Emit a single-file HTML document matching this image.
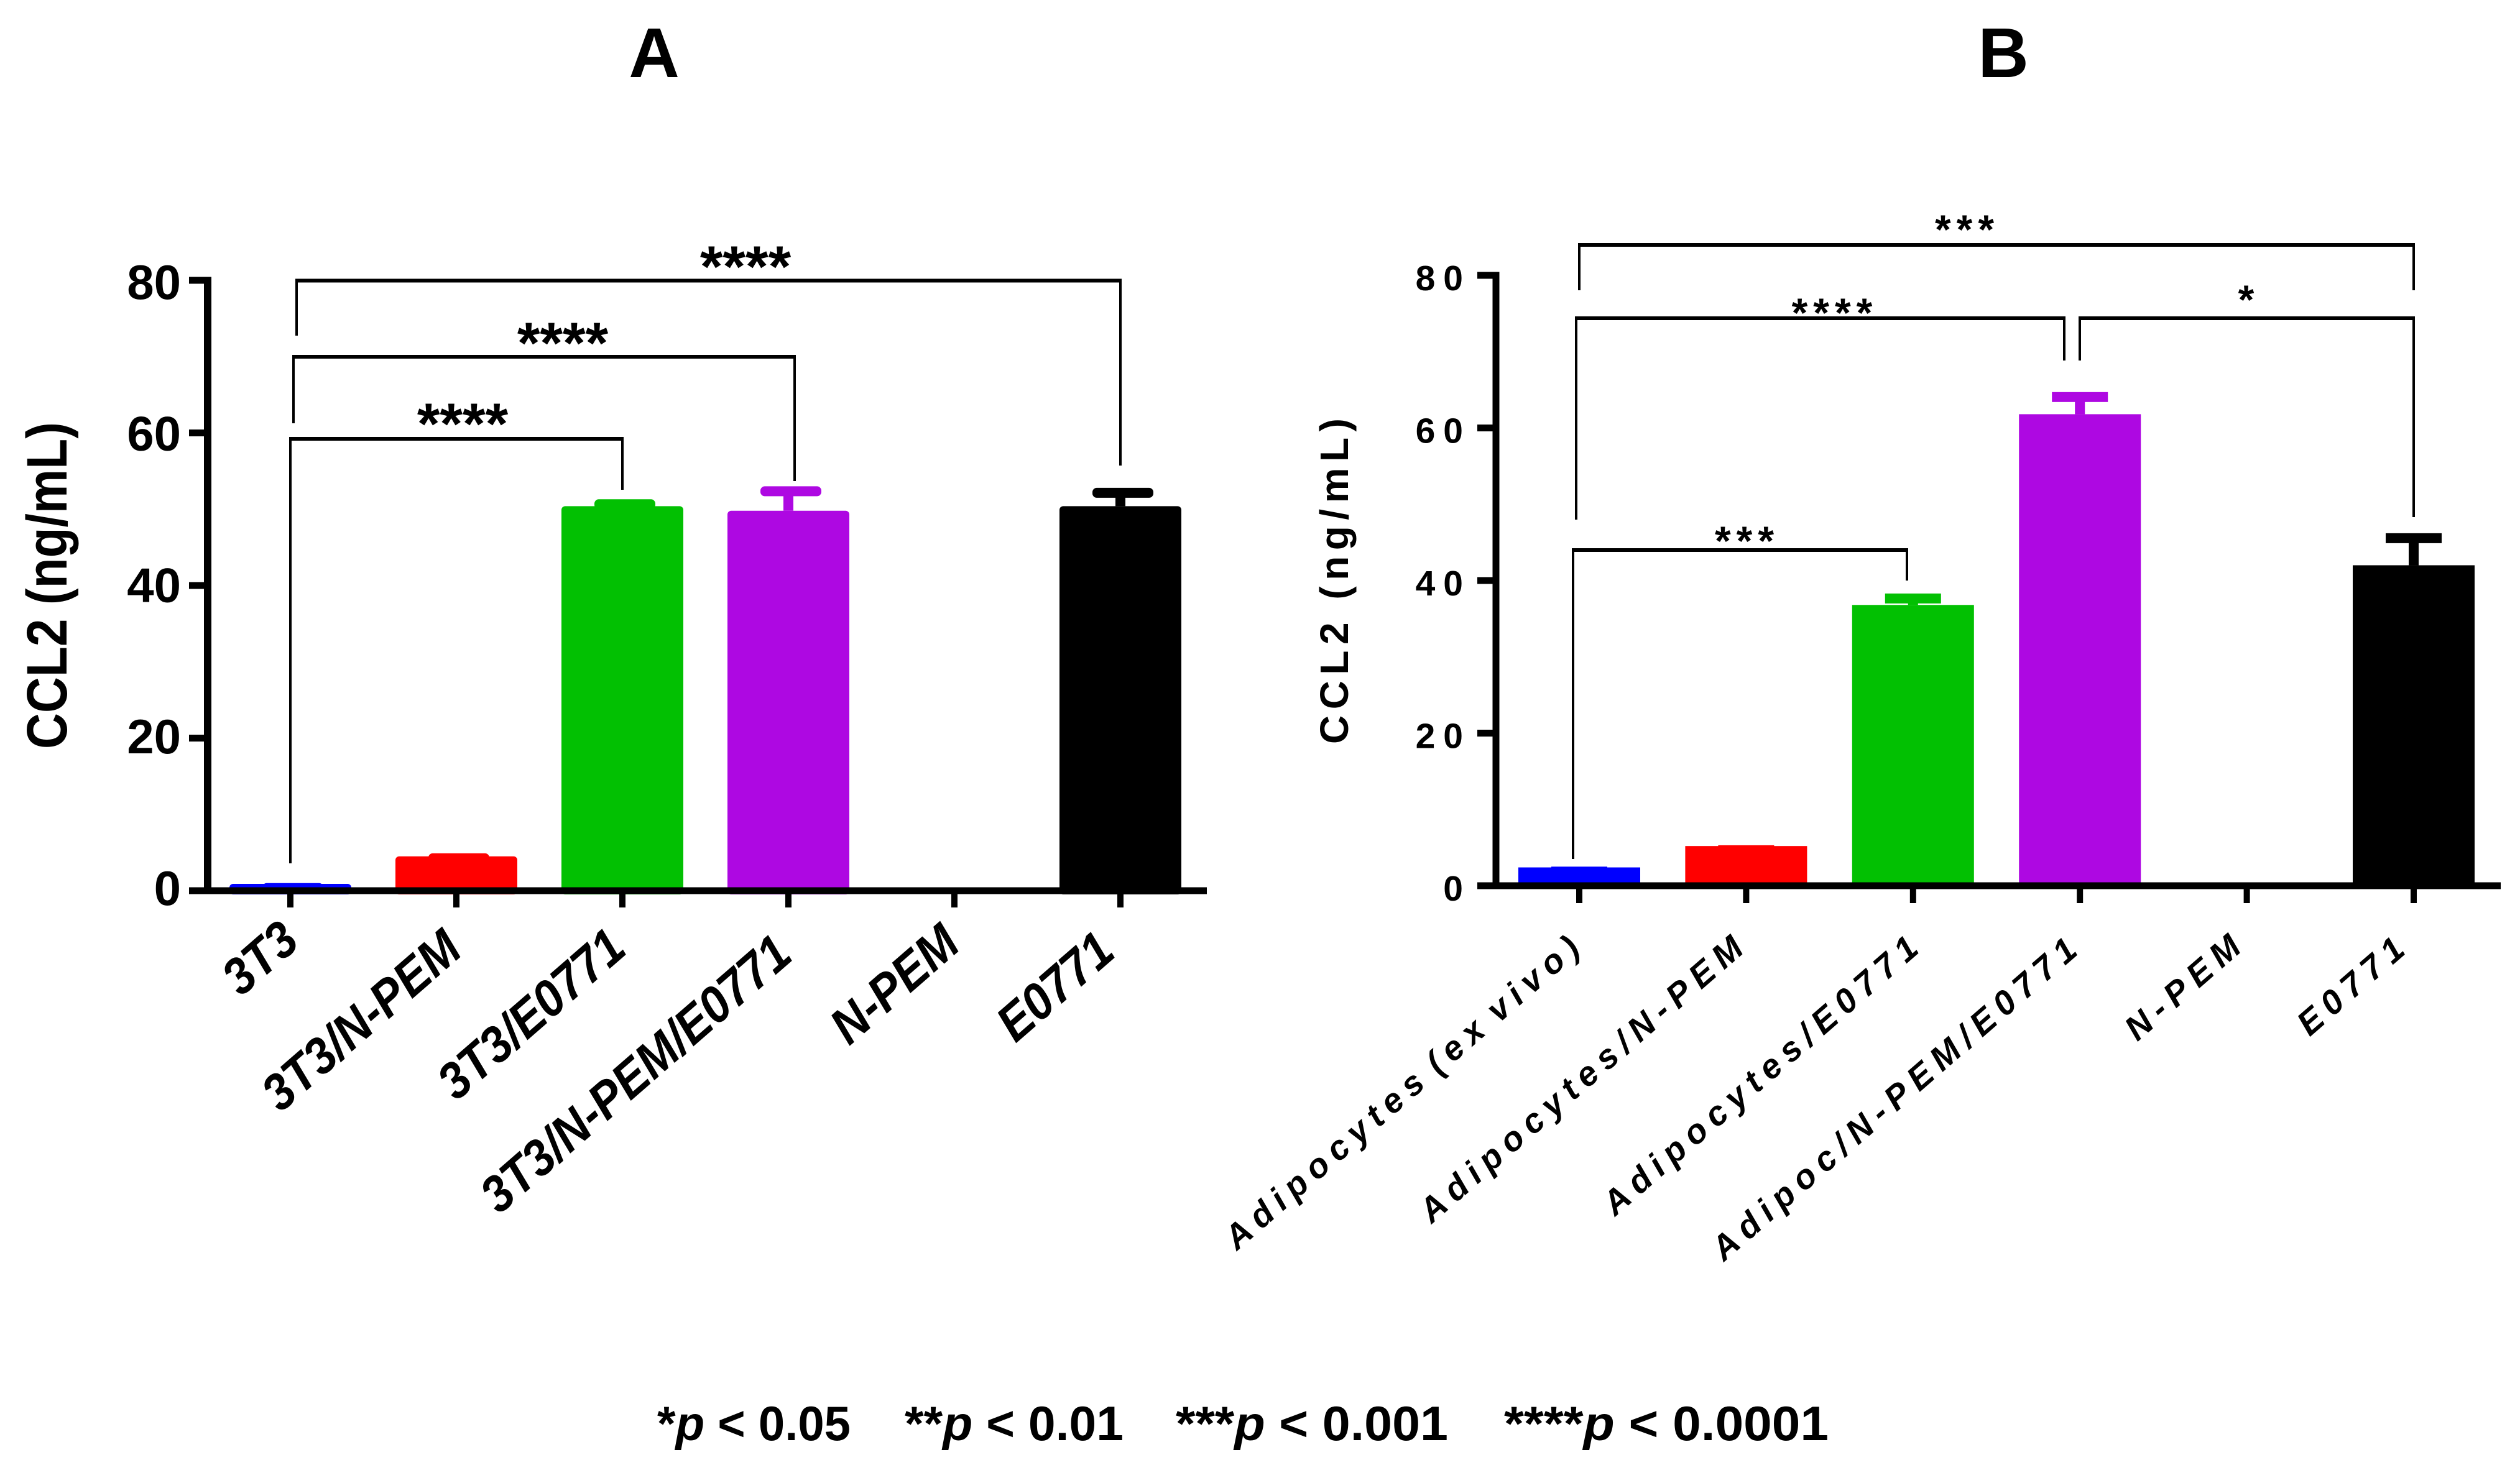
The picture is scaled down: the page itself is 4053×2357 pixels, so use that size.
<!DOCTYPE html>
<html lang="en">
<head>
<meta charset="utf-8">
<title>CCL2 bar charts</title>
<style>
html,body{margin:0;padding:0;background:#fff;}
svg{display:block;}
text{font-family:"Liberation Sans",sans-serif;font-weight:bold;fill:#000;}
</style>
</head>
<body>
<svg id="figure" xmlns="http://www.w3.org/2000/svg" width="4053" height="2357" viewBox="0 0 4053 2357">
  <rect width="4053" height="2357" fill="#fff"/>
  <g id="panel-a">
    <text x="1052" y="124" font-size="113" text-anchor="middle">A</text>
    <text transform="translate(107,1205) rotate(-90)" font-size="92" textLength="526" lengthAdjust="spacingAndGlyphs">CCL2 (ng/mL)</text>
  </g>
  <g id="panel-b">
    <text x="3222" y="124" font-size="113" text-anchor="middle">B</text>
    <text transform="translate(2168,1197) rotate(-90)" font-size="64" textLength="524" lengthAdjust="spacing">CCL2 (ng/mL)</text>
  </g>

  <g id="brackets-a" fill="none" stroke="#000">
    <g>
      <path d="M477 540V451.5H1802V749" stroke-width="4"/>
      <path d="M475 451.5H1804" stroke-width="6"/>
    </g>
    <g>
      <path d="M472 681V574H1278V774" stroke-width="4"/>
      <path d="M470 574H1280" stroke-width="6"/>
    </g>
    <g>
      <path d="M467 1389V706H1001V788" stroke-width="4"/>
      <path d="M465 706H1003" stroke-width="6"/>
    </g>
  </g>
  <g id="stars-a" font-size="94">
    <text x="1199" y="461" text-anchor="middle">****</text>
    <text x="905" y="584" text-anchor="middle">****</text>
    <text x="744" y="714" text-anchor="middle">****</text>
  </g>

  <g id="brackets-b" fill="none" stroke="#000">
    <g>
      <path d="M2540 467V394H3882V467" stroke-width="4"/>
      <path d="M2538 394H3884" stroke-width="6"/>
    </g>
    <g>
      <path d="M2535 836V512H3320V580" stroke-width="4"/>
      <path d="M2533 512H3322" stroke-width="6"/>
    </g>
    <g>
      <path d="M3345 580V512H3882V832" stroke-width="4"/>
      <path d="M3343 512H3884" stroke-width="6"/>
    </g>
    <g>
      <path d="M2530 1382V885H3067V934" stroke-width="4"/>
      <path d="M2528 885H3069" stroke-width="6"/>
    </g>
  </g>
  <g id="stars-b" font-size="66" letter-spacing="9">
    <text x="3164" y="392" text-anchor="middle">***</text>
    <text x="2951" y="526" text-anchor="middle">****</text>
    <text x="3617" y="505" text-anchor="middle">*</text>
    <text x="2810" y="893" text-anchor="middle">***</text>
  </g>

  <g id="footnote" font-size="78">
    <text x="1057" y="2317" textLength="311" lengthAdjust="spacingAndGlyphs">*<tspan font-style="italic">p</tspan> &lt; 0.05</text>
    <text x="1455" y="2317" textLength="352" lengthAdjust="spacingAndGlyphs">**<tspan font-style="italic">p</tspan> &lt; 0.01</text>
    <text x="1891" y="2317" textLength="438" lengthAdjust="spacingAndGlyphs">***<tspan font-style="italic">p</tspan> &lt; 0.001</text>
    <text x="2419" y="2317" textLength="522" lengthAdjust="spacingAndGlyphs">****<tspan font-style="italic">p</tspan> &lt; 0.0001</text>
  </g>
</svg>
<script>
const categoriesA = ['3T3', '3T3/N-PEM', '3T3/E0771', '3T3/N-PEM/E0771', 'N-PEM', 'E0771'];
const valuesA = [0.9, 4.5, 50.4, 49.8, 0, 50.4];
const errorTopsA = [1.0, 4.9, 51.3, 53.0, 0, 52.8];
const yTicksA = [0, 20, 40, 60, 80];

const categoriesB = ['Adipocytes (ex vivo)', 'Adipocytes/N-PEM', 'Adipocytes/E0771', 'Adipoc/N-PEM/E0771', 'N-PEM', 'E0771'];
const valuesB = [2.4, 5.2, 36.8, 61.8, 0, 42.0];
const errorTopsB = [2.5, 5.3, 38.3, 64.7, 0, 46.2];
const yTicksB = [0, 20, 40, 60, 80];

const barColors = ['#0000ff', '#ff0000', '#02c002', '#ae08e2', '#000000', '#000000'];

const SVG_NS = 'http://www.w3.org/2000/svg';

function xScaleA(i) { return 467 + i * 267; }
function yScaleA(v) { return 1433 - v * 12.275; }
function xScaleB(i) { return 2540 + i * 268.4; }
function yScaleB(v) { return 1425 - v * 12.275; }

function make(parent, tag, attrs) {
  const el = document.createElementNS(SVG_NS, tag);
  Object.keys(attrs).forEach(function (k) { el.setAttribute(k, attrs[k]); });
  parent.appendChild(el);
  return el;
}

function drawPanel(parent, cfg) {
  const n = cfg.categories.length;
  const x = cfg.x, y = cfg.y;

  cfg.values.forEach(function (v, i) {
    if (v <= 0) return;
    const bar = make(parent, 'rect', {
      x: x(i) - 98, y: y(v), width: 196, height: y(0) - y(v) + cfg.barRadius,
      rx: cfg.barRadius, fill: barColors[i]
    });
    
    

    const high = cfg.errorTops[i];
    if (y(high) + 8 < y(v)) {
      const stem = make(parent, 'rect', {
        x: x(i) - 8, y: y(high) + 8, width: 16, height: y(v) - y(high) - 8, fill: barColors[i]
      });
      
      
    }
    const cap = make(parent, 'rect', {
      x: x(i) - cfg.capLeft, y: y(high), width: cfg.capWidth, height: 16,
      rx: cfg.capRadius, fill: barColors[i]
    });
    
    
  });

  const yAxis = make(parent, 'rect', {
    x: cfg.axisX - cfg.axisW / 2, y: y(80) - 5.5, width: cfg.axisW, height: y(0) - y(80) + 11, fill: '#000'
  });
  
  

  const xAxis = make(parent, 'rect', {
    x: cfg.tickLeft, y: y(0) - 5.5, width: cfg.axisEnd - cfg.tickLeft, height: 11, fill: '#000'
  });
  
  

  cfg.yTicks.forEach(function (t) {
    const tick = make(parent, 'rect', {
      x: cfg.tickLeft, y: y(t) - 5.5, width: cfg.axisX - cfg.tickLeft, height: 11, fill: '#000'
    });
    
    

    const label = make(parent, 'text', {
      x: cfg.yLabelX, y: y(t) + cfg.yLabelDy + t * cfg.yLabelDrift, 'font-size': cfg.yFont,
      'text-anchor': 'end', 'letter-spacing': cfg.ySpacing
    });
    label.textContent = String(t);
    
    
  });

  for (let i = 0; i < n; i++) {
    const tick = make(parent, 'rect', {
      x: x(i) - 5, y: y(0), width: 10, height: cfg.tickBottom - y(0), fill: '#000'
    });
    
    

    const shift = cfg.labelShift[i];
    const lx = x(i) + cfg.xLabelDx + shift[0], ly = cfg.xLabelY + shift[1];
    const label = make(parent, 'text', {
      transform: 'translate(' + lx + ',' + ly + ') rotate(-41) scale(' + cfg.xLabelStretch + ',1)',
      'font-size': cfg.xFont, 'font-style': 'italic',
      'text-anchor': 'end', 'letter-spacing': cfg.xSpacing, 'word-spacing': cfg.xWordSpacing
    });
    label.textContent = cfg.categories[i];
    
    
  }
}

drawPanel(document.getElementById('panel-a'), {
  categories: categoriesA, values: valuesA, errorTops: errorTopsA, yTicks: yTicksA,
  x: xScaleA, y: yScaleA, barRadius: 6, capLeft: 45, capWidth: 98, capRadius: 7,
  axisX: 334, axisW: 12, tickLeft: 304, axisEnd: 1941, tickBottom: 1460,
  yLabelX: 291, yLabelDy: 23, yLabelDrift: 0.085, yFont: 78, ySpacing: 0,
  xLabelDx: 10, xLabelY: 1546, xFont: 82, xSpacing: 0, xWordSpacing: 0, xLabelStretch: 0.915,
  labelShift: [[8, -26], [3, -12], [0, -14], [0, -4], [3, -21], [-15, -9]]
});

drawPanel(document.getElementById('panel-b'), {
  categories: categoriesB, values: valuesB, errorTops: errorTopsB, yTicks: yTicksB,
  x: xScaleB, y: yScaleB, barRadius: 0, capLeft: 45, capWidth: 90, capRadius: 0,
  axisX: 2406, axisW: 11, tickLeft: 2376, axisEnd: 4022, tickBottom: 1453,
  yLabelX: 2366, yLabelDy: 24, yLabelDrift: 0, yFont: 57, ySpacing: 13,
  xLabelDx: 8, xLabelY: 1523, xFont: 55, xSpacing: 12, xWordSpacing: -14, xLabelStretch: 1,
  labelShift: [[5, 0], [0, 0], [13, 0], [0, 3], [-5, -2], [-10, 2]]
});
</script>
</body>
</html>
